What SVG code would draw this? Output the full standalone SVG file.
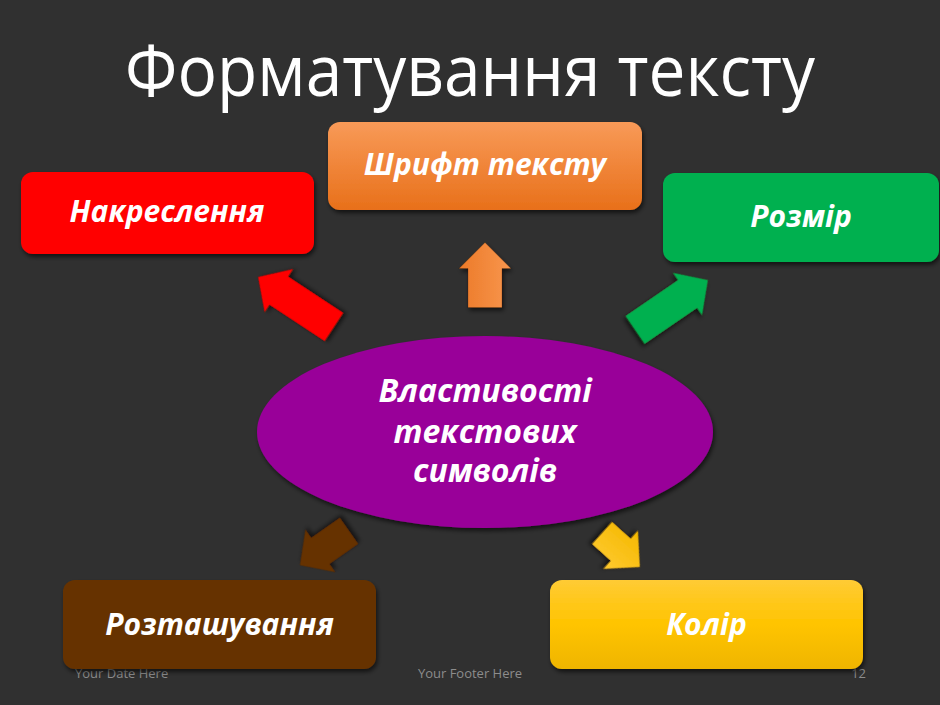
<svg xmlns="http://www.w3.org/2000/svg" width="940" height="705" viewBox="0 0 940 705">
<defs>
<filter id="sh" x="-20%" y="-20%" width="140%" height="150%">
<feDropShadow dx="1.5" dy="3" stdDeviation="2" flood-color="#000" flood-opacity="0.6"/>
</filter>
<linearGradient id="gOrange" x1="0" y1="0" x2="0" y2="1">
<stop offset="0" stop-color="#f89a58"/>
<stop offset="1" stop-color="#e8701a"/>
</linearGradient>
<linearGradient id="gYellow" x1="0" y1="0" x2="0" y2="1">
<stop offset="0" stop-color="#ffcb35"/>
<stop offset="0.5" stop-color="#ffc400"/>
<stop offset="1" stop-color="#efb500"/>
</linearGradient>
<linearGradient id="gOrangeArrow" x1="0" y1="0" x2="1" y2="0">
<stop offset="0" stop-color="#ec7a28"/>
<stop offset="1" stop-color="#f8964e"/>
</linearGradient>
<linearGradient id="gYellowArrow" x1="0" y1="0" x2="1" y2="0">
<stop offset="0" stop-color="#f4b800"/>
<stop offset="1" stop-color="#ffca30"/>
</linearGradient>
</defs>
<style>
.box { filter: url(#sh); }
.lbl { font-family: "Open Sans", "Noto Sans", "DejaVu Sans", sans-serif; font-weight: 700; font-style: italic; font-size: 30px; fill: #ffffff; text-anchor: middle; }
.mid { font-size: 32px; }
.foot { font-family: "Open Sans", "Noto Sans", sans-serif; font-size: 13px; fill: #8c8c8c; }
.title { font-family: "Open Sans", "Noto Sans", sans-serif; font-size: 72px; fill: #ffffff; text-anchor: middle; }
.arr { filter: url(#sh); stroke: #3a1a00; stroke-opacity: 0.25; stroke-width: 1; }
</style>
<rect x="0" y="0" width="940" height="705" fill="#303030"/>

<text class="title" x="470" y="96" textLength="690" lengthAdjust="spacingAndGlyphs">Форматування тексту</text>

<g id="footer">
<text class="foot" x="75" y="678">Your Date Here</text>
<text class="foot" x="470" y="678" text-anchor="middle">Your Footer Here</text>
<text class="foot" x="866" y="678" text-anchor="end">12</text>
</g>

<g id="connectors">
<path class="arr" fill="#ff0000" transform="translate(296,302) rotate(-56.6)" d="M0,-45.5 L26,-20.5 L17,-20.5 L17,45.5 L-17,45.5 L-17,-20.5 L-26,-20.5 Z"/>
<path class="arr" fill="url(#gOrangeArrow)" transform="translate(485,275)" d="M0,-32.5 L26,-6.5 L17,-6.5 L17,32.5 L-17,32.5 L-17,-6.5 L-26,-6.5 Z"/>
<path class="arr" fill="#00b050" transform="translate(671.5,305) rotate(55.6)" d="M0,-44.25 L26,-19.25 L17,-19.25 L17,44.25 L-17,44.25 L-17,-19.25 L-26,-19.25 Z"/>
<path class="arr" fill="#663300" transform="translate(324.5,548) rotate(-125)" d="M0,-30 L26,-5 L16,-5 L16,30 L-16,30 L-16,-5 L-26,-5 Z"/>
<path class="arr" fill="url(#gYellowArrow)" transform="translate(621,550) rotate(132)" d="M0,-25.5 L26,0.5 L15,0.5 L15,25.5 L-15,25.5 L-15,0.5 L-26,0.5 Z"/>
</g>

<g id="center">
<ellipse class="box" cx="485" cy="432" rx="228" ry="96" fill="#990099"/>
<text class="lbl mid" x="485" y="402">Властивості</text>
<text class="lbl mid" x="485" y="443">текстових</text>
<text class="lbl mid" x="485" y="482">символів</text>
</g>

<g id="n-nakreslennia">
<rect class="box" x="21" y="172" width="293" height="82" rx="12" fill="#ff0000"/>
<text class="lbl" x="167" y="222">Накреслення</text>
</g>

<g id="n-shryft">
<rect class="box" x="328" y="122" width="314" height="88" rx="12" fill="url(#gOrange)"/>
<text class="lbl" x="485" y="175">Шрифт тексту</text>
</g>

<g id="n-rozmir">
<rect class="box" x="663" y="173" width="276" height="89" rx="12" fill="#00b050"/>
<text class="lbl" x="801" y="227">Розмір</text>
</g>

<g id="n-roztashuvannia">
<rect class="box" x="63" y="580" width="313" height="89" rx="12" fill="#663300"/>
<text class="lbl" x="219.5" y="635">Розташування</text>
</g>

<g id="n-kolir">
<rect class="box" x="550" y="580" width="313" height="89" rx="12" fill="url(#gYellow)"/>
<text class="lbl" x="706.5" y="635">Колір</text>
</g>
</svg>
